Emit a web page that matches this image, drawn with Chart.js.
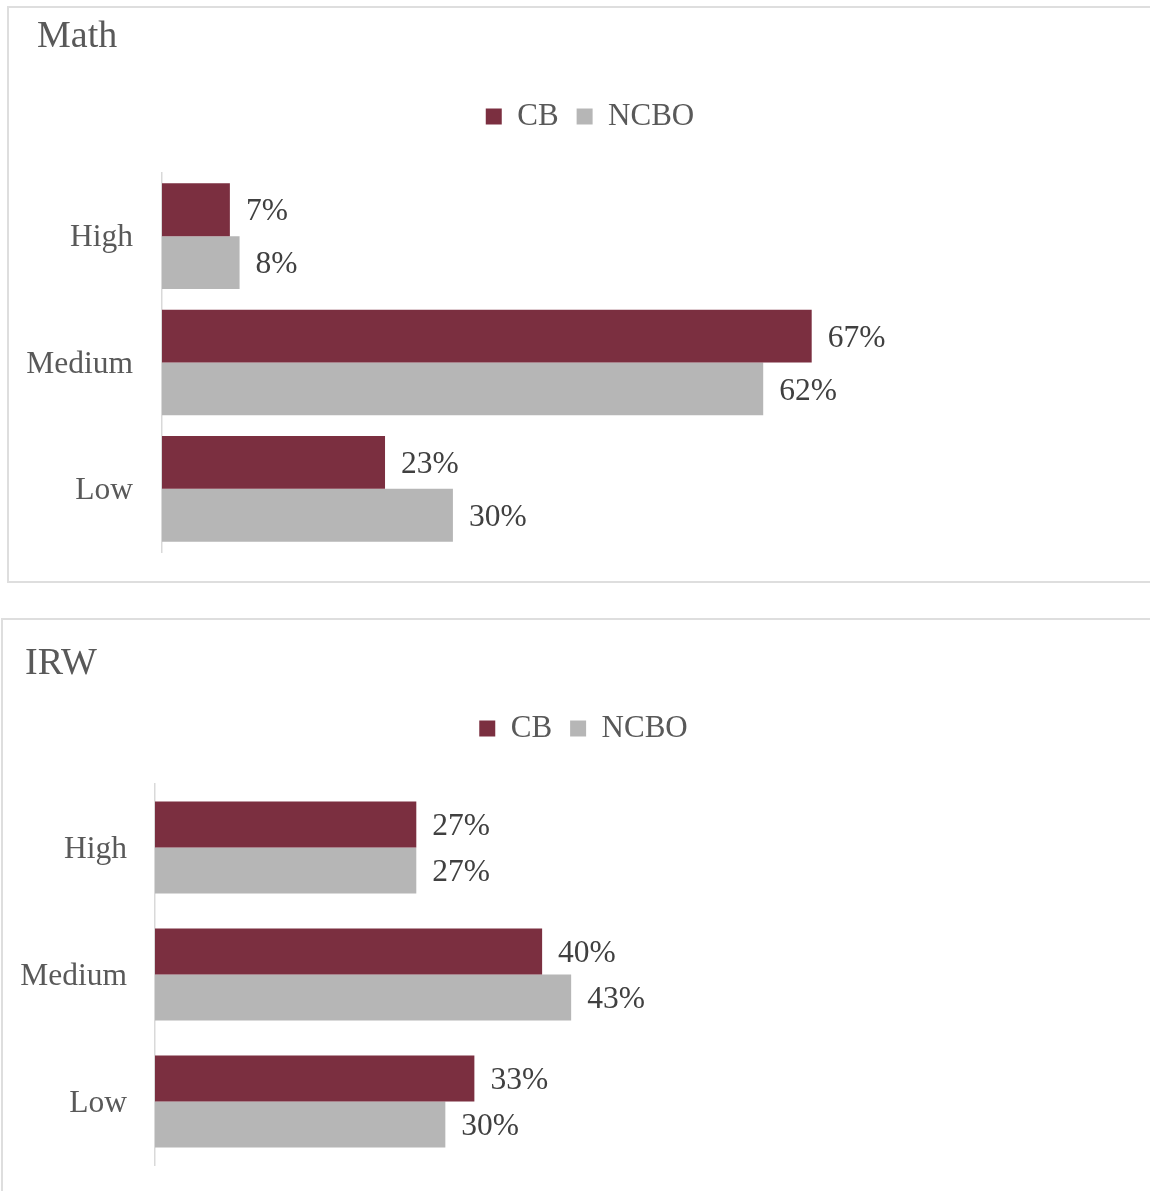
<!DOCTYPE html>
<html>
<head>
<meta charset="utf-8">
<title>CB vs NCBO</title>
<script src="https://cdn.jsdelivr.net/npm/chart.js@4.4.1/dist/chart.umd.min.js"></script>
<style>
  html, body { margin: 0; padding: 0; background: #ffffff; overflow: hidden; width: 1150px; height: 1191px; }
  .panel { position: absolute; border: 2px solid #DEDEDE; background: #ffffff; }
  #mathPanel { left: 7px; top: 6px; width: 1180px; height: 573px; }
  #irwPanel { left: 1px; top: 618px; width: 1180px; height: 600px; }
  canvas { display: block; }
</style>
</head>
<body>
<div class="panel" id="mathPanel"><canvas id="mathChart" width="1164" height="573"></canvas></div>
<div class="panel" id="irwPanel"><canvas id="irwChart" width="1170" height="580"></canvas></div>
<script>
// Share of students per level, in percent
const categories = ['High', 'Medium', 'Low'];
const seriesNames = ['CB', 'NCBO'];
const mathCB = [7, 67, 23];
const mathNCBO = [8, 62, 30];
const irwCB = [27, 40, 33];
const irwNCBO = [27, 43, 30];

const COLOR_CB = '#7B2F40';
const COLOR_NCBO = '#B6B6B6';
const SERIF = '"Liberation Serif", "Times New Roman", serif';

// Writes each bar's value just past its end
const valueLabels = {
  id: 'valueLabels',
  afterDatasetsDraw(chart) {
    const ctx = chart.ctx;
    ctx.save();
    ctx.font = '31.5px ' + SERIF;
    ctx.fillStyle = '#404040';
    ctx.textAlign = 'left';
    ctx.textBaseline = 'middle';
    chart.data.datasets.forEach((ds, i) => {
      chart.getDatasetMeta(i).data.forEach((bar, j) => {
        ctx.fillText(ds.data[j] + '%', bar.x + 16, bar.y + 2.5);
      });
    });
    ctx.restore();
  }
};

// Panel heading in the upper-left corner
const panelTitle = {
  id: 'panelTitle',
  afterDraw(chart, args, opts) {
    const ctx = chart.ctx;
    ctx.save();
    ctx.font = '38px ' + SERIF;
    ctx.fillStyle = '#595959';
    ctx.textAlign = 'left';
    ctx.textBaseline = 'middle';
    ctx.fillText(opts.text, opts.x, opts.y);
    ctx.restore();
  }
};

function makeChart(canvasId, title, cb, ncbo, cfg) {
  return new Chart(document.getElementById(canvasId), {
    type: 'bar',
    data: {
      labels: categories,
      datasets: [
        { label: seriesNames[0], data: cb, backgroundColor: COLOR_CB },
        { label: seriesNames[1], data: ncbo, backgroundColor: COLOR_NCBO }
      ]
    },
    options: {
      indexAxis: 'y',
      responsive: false,
      animation: false,
      events: [],
      datasets: { bar: { barPercentage: 1, categoryPercentage: cfg.catPct } },
      layout: { padding: cfg.padding },
      scales: {
        x: { display: false, min: 0, max: cfg.xMax },
        // blank band between the legend and the plot
        xGap: {
          type: 'linear', position: 'top', display: true,
          grid: { display: false }, border: { display: false }, ticks: { display: false },
          afterFit(scale) { scale.height = cfg.gap; }
        },
        y: {
          grid: { display: false },
          border: { display: true, color: '#D9D9D9', width: 1.5 },
          ticks: {
            color: '#595959', padding: cfg.tickPad, labelOffset: 2,
            font: { family: SERIF, size: 31.5 }
          },
          afterFit(scale) {
            scale.width = cfg.yWidth;
            scale.paddingTop = 0;
            scale.paddingBottom = 0;
          }
        }
      },
      plugins: {
        tooltip: { enabled: false },
        title: { display: false },
        panelTitle: { text: title, x: cfg.titleX, y: cfg.titleY },
        legend: {
          position: 'top', align: 'center',
          labels: {
            boxWidth: 16, boxHeight: 16, padding: 18, color: '#595959',
            font: { family: SERIF, size: 31 }
          }
        }
      }
    },
    plugins: [valueLabels, panelTitle]
  });
}

makeChart('mathChart', 'Math', mathCB, mathNCBO, {
  catPct: 0.837, xMax: 102.3, gap: 31, yWidth: 136, tickPad: 21,
  padding: { left: 17, right: 19, top: 75, bottom: 29 },
  titleX: 28, titleY: 29
});

makeChart('irwChart', 'IRW', irwCB, irwNCBO, {
  catPct: 0.724, xMax: 102.5, gap: 30, yWidth: 135, tickPad: 20,
  padding: { left: 17, right: 26, top: 75, bottom: 35 },
  titleX: 22, titleY: 44
});
</script>
</body>
</html>
